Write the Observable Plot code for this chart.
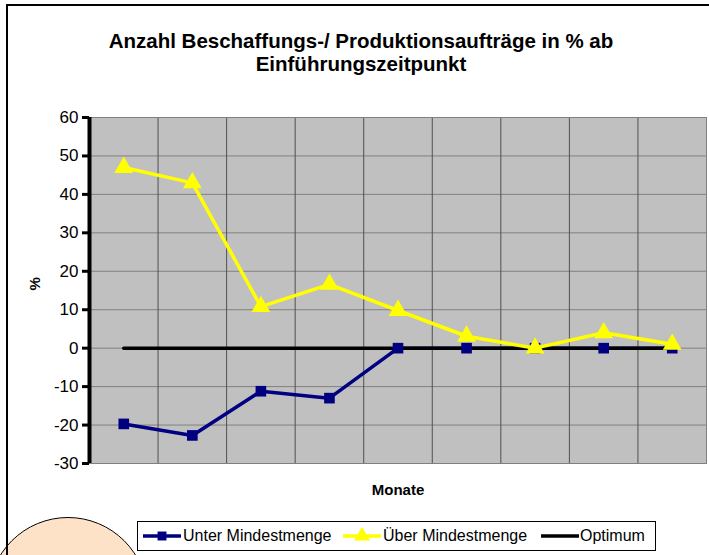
<!DOCTYPE html>
<html>
<head>
<meta charset="utf-8">
<script src="https://cdn.jsdelivr.net/npm/d3@7"></script>
<script src="https://cdn.jsdelivr.net/npm/@observablehq/plot@0.6"></script>
<style>
  html, body { margin: 0; padding: 0; background: #fff; }
  #wrap { position: relative; width: 709px; height: 555px; overflow: hidden; font-family: "Liberation Sans", Arial, sans-serif; }
  #circle { position: absolute; left: -12px; top: 517px; width: 160px; height: 160px; border-radius: 50%; background: #fde2c8; border: 1.5px solid #000; box-sizing: border-box; }
  #frame { position: absolute; left: 6px; top: 4px; width: 800px; height: 700px; border-left: 2px solid #000; border-top: 2px solid #000; }
  #title { position: absolute; left: 0; top: 29px; width: 722px; text-align: center; font-weight: bold; font-size: 20.5px; line-height: 23px; color: #000; }
  #chart { position: absolute; left: 0; top: 0; }
  #legend { position: absolute; left: 137px; top: 521px; width: 519px; height: 30px; box-sizing: border-box; border: 1px solid #000; background: #fff; font-size: 16px; color: #000; }
  #legend .sw { position: absolute; top: 6px; }
  #legend .tx { position: absolute; top: 5px; line-height: 18px; white-space: nowrap; }
</style>
</head>
<body>
<div id="wrap">
  <div id="circle"></div>
  <div id="frame"></div>
  <div id="chart"></div>
  <div id="title">Anzahl Beschaffungs-/ Produktionsaufträge in % ab<br>Einführungszeitpunkt</div>
  <div id="legend"></div>
</div>
<script>
const months = [1, 2, 3, 4, 5, 6, 7, 8, 9];
const unter = [-19.7, -22.7, -11.2, -13, 0, 0, 0, 0, 0];
const ueber = [47, 43, 10.8, 16.6, 9.8, 3.1, 0, 4, 1];
const optimum = [0, 0, 0, 0, 0, 0, 0, 0, 0];
const yTicks = [-30, -20, -10, 0, 10, 20, 30, 40, 50, 60];
const seriesNames = ["Unter Mindestmenge", "Über Mindestmenge", "Optimum"];
const seriesColors = ["#000080", "#ffff00", "#000000"];
const xLabel = "Monate";
const yLabel = "%";

const rows = months.map((m, i) => ({month: m, unter: unter[i], ueber: ueber[i], optimum: optimum[i]}));
const boundaries = months.slice(1).map(m => m - 0.5);
const xDomain = [months[0] - 0.5, months[months.length - 1] + 0.5];

const chart = Plot.plot({
  width: 709,
  height: 555,
  marginLeft: 89,
  marginRight: 3,
  marginTop: 117,
  marginBottom: 92,
  style: {fontFamily: "'Liberation Sans', Arial, sans-serif", background: "transparent", color: "#000", overflow: "visible"},
  x: {type: "linear", domain: xDomain, axis: null},
  y: {domain: [yTicks[0], yTicks[yTicks.length - 1]], axis: null},
  marks: [
    Plot.frame({fill: "#c0c0c0"}),
    Plot.gridY(yTicks, {stroke: "#808080", strokeOpacity: 1}),
    Plot.ruleX(boundaries, {stroke: "#505050", strokeWidth: 1}),
    Plot.frame({stroke: "#808080"}),
    Plot.line(rows, {x: "month", y: "unter", stroke: seriesColors[0], strokeWidth: 3.5}),
    Plot.line(rows, {x: "month", y: "optimum", stroke: seriesColors[2], strokeWidth: 3.5}),
    Plot.dot(rows, {x: "month", y: "unter", symbol: "square", r: 6, fill: seriesColors[0]}),
    Plot.line(rows, {x: "month", y: "ueber", stroke: seriesColors[1], strokeWidth: 3.5}),
    Plot.dot(rows, {x: "month", y: "ueber", symbol: "triangle", r: 7, fill: seriesColors[1]}),
    Plot.ruleX([xDomain[0]], {stroke: "#000", strokeWidth: 4}),
    Plot.axisY(yTicks, {tickSize: 7, tickPadding: 4, strokeWidth: 3, fontSize: 17, label: null, tickFormat: d => String(d)}),
    Plot.text([yLabel], {frameAnchor: "left", dx: -54, rotate: -90, fontWeight: "bold", fontSize: 15, fill: "#000"}),
    Plot.text([xLabel], {frameAnchor: "bottom", dy: 31, fontWeight: "bold", fontSize: 15, fill: "#000"})
  ]
});
document.getElementById("chart").appendChild(chart);

// legend (positions relative to the legend box)
const legend = document.getElementById("legend");
const swatchSym = ["square", "triangle", null];
const swatchLeft = [5, 205, 403];
const textLeft = [45, 245, 442];
const ns = "http://www.w3.org/2000/svg";
seriesNames.forEach((name, i) => {
  const svg = document.createElementNS(ns, "svg");
  svg.setAttribute("class", "sw");
  svg.setAttribute("width", 38);
  svg.setAttribute("height", 16);
  svg.style.left = swatchLeft[i] + "px";
  const line = document.createElementNS(ns, "line");
  line.setAttribute("x1", 0); line.setAttribute("x2", 38);
  line.setAttribute("y1", 8); line.setAttribute("y2", 8);
  line.setAttribute("stroke", seriesColors[i]);
  line.setAttribute("stroke-width", 3.5);
  svg.appendChild(line);
  if (swatchSym[i]) {
    const p = document.createElementNS(ns, "path");
    const sym = swatchSym[i] === "square" ? d3.symbolSquare : d3.symbolTriangle;
    p.setAttribute("d", d3.symbol(sym, swatchSym[i] === "square" ? 80 : 110)());
    p.setAttribute("transform", "translate(19,8)");
    p.setAttribute("fill", seriesColors[i]);
    svg.appendChild(p);
  }
  legend.appendChild(svg);
  const t = document.createElement("span");
  t.className = "tx";
  t.style.left = textLeft[i] + "px";
  t.textContent = name;
  legend.appendChild(t);
});
</script>
</body>
</html>
